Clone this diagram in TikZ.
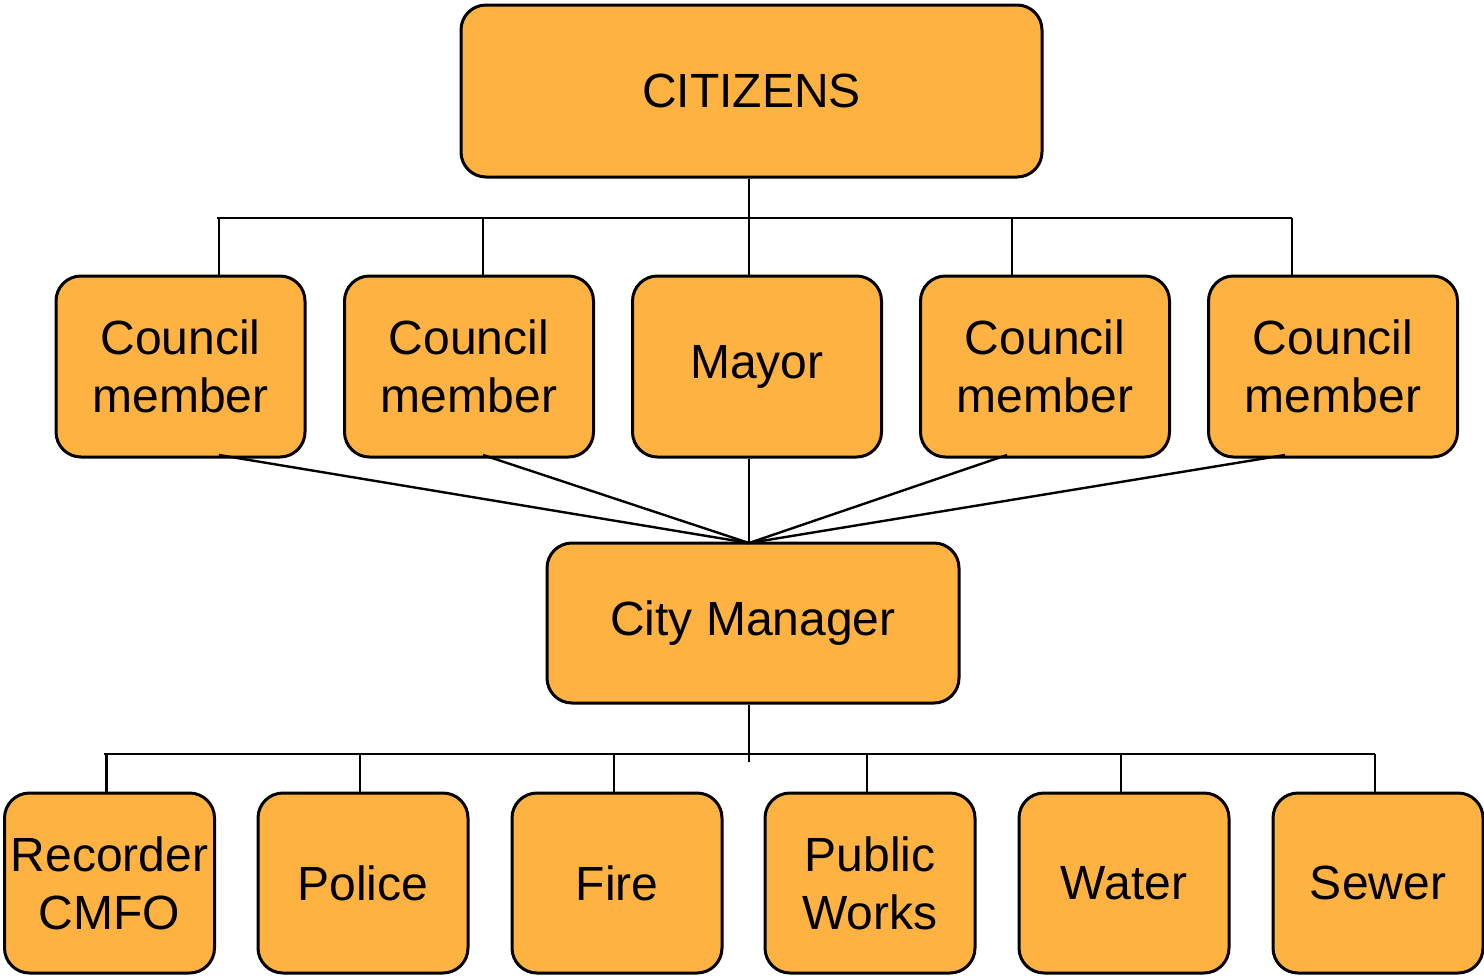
\documentclass[tikz,border=0pt]{standalone}
\usepackage{fontspec}
\setmainfont{Liberation Sans}
\usetikzlibrary{positioning}
\definecolor{boxorange}{RGB}{253,178,66}

\begin{document}
\begin{tikzpicture}[x=0.5pt,y=-0.5pt,line width=1.2pt,
                    every node/.style={font=\fontsize{24}{29}\selectfont,align=center}]
      \tikzstyle{orgbox}=[draw=black,line width=1.5pt,fill=boxorange,rounded corners=12.5pt,
                          inner sep=0pt]
      \tikzstyle{topbox}=[orgbox,minimum width=290.5pt,minimum height=86pt]
      \tikzstyle{midbox}=[orgbox,minimum width=124.5pt,minimum height=90.5pt]
      \tikzstyle{mgrbox}=[orgbox,minimum width=206pt,minimum height=80pt]
      \tikzstyle{depbox}=[orgbox,minimum width=105pt,minimum height=90pt]

      \useasboundingbox (0,0) rectangle (1484,976);

      \node[topbox]  (cit)    at (751.5,91)  {CITIZENS};
      \node[midbox]  (cm1)    at (180.5,366.5) {Council\\member};
      \node[midbox]  (cm2)    at (469,366.5)   {Council\\member};
      \node[midbox]  (mayor)  at (757,366.5)   {Mayor};
      \node[midbox]  (cm3)    at (1045,366.5)  {Council\\member};
      \node[midbox]  (cm4)    at (1333,366.5)  {Council\\member};
      \node[mgrbox]  (mgr)    at (753,623)     {City Manager};
      \node[depbox]  (rec)    at (109.5,883)   {Recorder\\CMFO};
      \node[depbox]  (police) at (363,883)     {Police};
      \node[depbox]  (fire)   at (617,883)     {Fire};
      \node[depbox]  (pw)     at (870,883)     {Public\\Works};
      \node[depbox]  (water)  at (1124,883)    {Water};
      \node[depbox]  (sewer)  at (1378,883)    {Sewer};

      % top bus
      \coordinate (hub) at (749,543);
      \coordinate (ta) at (219,218);
      \coordinate (tb) at (483,218);
      \coordinate (tc) at (1012,218);
      \coordinate (td) at (1292,218);
      \draw (ta) ++(-2,0) -- (td);
      \draw (cit.south -| hub) -- (hub |- mayor.north);
      \foreach \t/\b in {ta/cm1,tb/cm2,tc/cm3,td/cm4}
        \draw (\t) -- (\t |- \b.north);

      % fan to city manager
      \coordinate (fa) at (219,455);
      \coordinate (fb) at (483,455);
      \coordinate (fc) at (1007,455);
      \coordinate (fd) at (1285,455);
      \foreach \f in {fa,fb,fc,fd}
        \draw (\f) -- (hub);
      \draw (hub |- mayor.south) -- (hub);

      % bottom bus
      \coordinate (bus) at (749,754);
      \draw (bus |- mgr.south) -- ++(0,57);
      \draw ([xshift=-3pt]rec.north |- bus) -- ([xshift=-1.5pt]sewer.north |- bus);
      \foreach \d in {rec,police,fire,pw,water,sewer}
        \draw ([xshift=-1.5pt]\d.north |- bus) -- ([xshift=-1.5pt]\d.north);
\end{tikzpicture}
\end{document}
